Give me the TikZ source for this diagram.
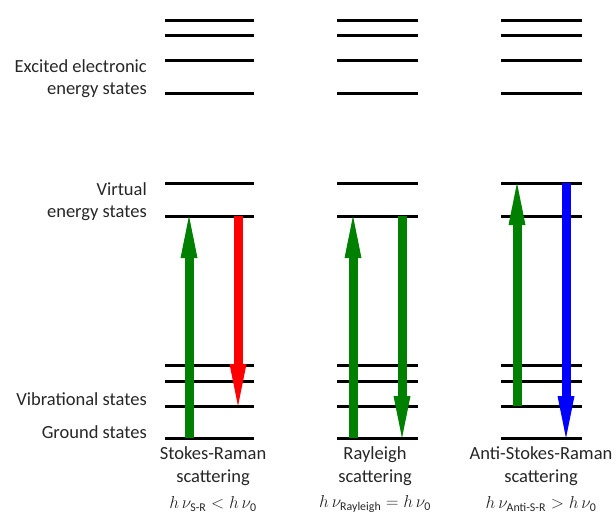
\documentclass[tikz,border=0pt]{standalone}
\usepackage{amsmath}
\usepackage{fontspec}
\setmainfont{Carlito}
\usetikzlibrary{arrows.meta}
\definecolor{excite}{RGB}{0,128,0}
\definecolor{stokes}{RGB}{255,0,0}
\definecolor{antistokes}{RGB}{0,0,255}
\tikzset{
  level/.style={line width=3pt},
  transition/.style={line width=9pt, -{Triangle[length=42pt,width=17pt,line width=0pt]}},
  lbl/.style={font=\fontsize{18.5}{22}\selectfont, inner sep=0pt, anchor=east, align=right, text=black!85},
  caption/.style={font=\fontsize{18.5}{23}\selectfont, inner sep=0pt, align=center, text=black!85},
  formula/.style={font=\fontsize{17}{20}\selectfont, inner sep=0pt, text=black!85},
}
\begin{document}
\begin{tikzpicture}[x=1pt,y=-1pt]
\useasboundingbox (0,0) rectangle (616,515);
% columns: left/right ends of the energy levels
\foreach \c/\xa/\xb in {a/165/254, b/337/418, c/501/582}{
  \foreach \n/\y in {e1/20, e2/35, e3/60, e4/93, v1/183, v2/216, s1/365, s2/381, s3/406, g/438}{
    \coordinate (\c\n L) at (\xa,\y);
    \coordinate (\c\n R) at (\xb,\y);
    \draw[level] (\c\n L) -- (\c\n R);
  }
}
% side labels
\node[lbl] (lexc) at (147,79) {Excited electronic\\energy states};
\node[lbl] (lvirt) at (147,202) {Virtual\\energy states};
\node[lbl] (lvib) at (147,399) {Vibrational states};
\node[lbl] (lgnd) at (147,432) {Ground states};
% transitions
\coordinate (a1g) at (189,438); \coordinate (a1t) at (189,216);
\coordinate (a2t) at (238,216); \coordinate (a2g) at (238,406);
\coordinate (b1g) at (353,438); \coordinate (b1t) at (353,216);
\coordinate (b2t) at (402,216); \coordinate (b2g) at (402,438);
\coordinate (c1g) at (517,406); \coordinate (c1t) at (517,183);
\coordinate (c2t) at (566,183); \coordinate (c2g) at (566,438);
\draw[transition, excite] (a1g) -- (a1t);
\draw[transition, stokes] (a2t) -- (a2g);
\draw[transition, excite] (b1g) -- (b1t);
\draw[transition, excite] (b2t) -- (b2g);
\draw[transition, excite] (c1g) -- (c1t);
\draw[transition, antistokes] (c2t) -- (c2g);
% captions
\node[caption] (capa) at (213,466) {Stokes-Raman\\scattering};
\node[caption] (capb) at (375,466) {Rayleigh\\scattering};
\node[caption] (capc) at (541,466) {Anti-Stokes-Raman\\scattering};
\node[formula] (fa) at (213,504) {$h\,\nu_{\text{S-R}} < h\,\nu_{\text{0}}$};
\node[formula] (fb) at (375,504) {$h\,\nu_{\text{Rayleigh}} = h\,\nu_{\text{0}}$};
\node[formula] (fc) at (541,504) {$h\,\nu_{\text{Anti-S-R}} > h\,\nu_{\text{0}}$};
\end{tikzpicture}
\end{document}
